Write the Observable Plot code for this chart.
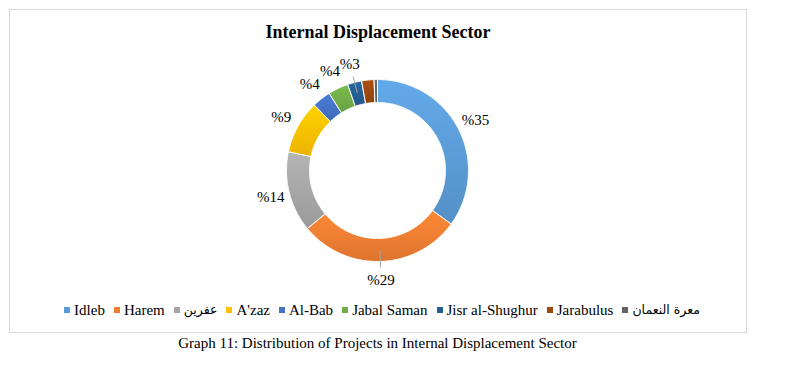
<!DOCTYPE html>
<html>
<head>
<meta charset="utf-8">
<script src="https://cdn.jsdelivr.net/npm/d3@7"></script>
<script src="https://cdn.jsdelivr.net/npm/@observablehq/plot@0.6"></script>
<style>
  html, body { margin: 0; padding: 0; background: #fff; }
  body { width: 797px; height: 365px; position: relative; font-family: "Liberation Serif", "Times New Roman", serif; color: #000; }
  #frame { position: absolute; left: 9px; top: 9px; width: 736px; height: 322px; border: 1px solid #d9d9d9; }
  #title { position: absolute; left: 0; top: 12px; width: 100%; text-align: center; font-weight: bold; font-size: 18px; line-height: 21px; }
  #chart { position: absolute; left: 0; top: 40px; }
  #legend { position: absolute; left: 0; top: 291px; width: 100%; display: flex; justify-content: center; align-items: center; font-size: 15px; line-height: 18px; gap: 9px; padding-left: 8px; box-sizing: border-box; }
  #legend .item { display: flex; align-items: center; }
  #legend .sw { width: 6px; height: 6px; margin-right: 4px; }
  #legend .ar { font-size: 12.5px; font-family: "DejaVu Sans", sans-serif; }
  #caption { position: absolute; left: 0; top: 334px; width: 755px; text-align: center; font-size: 15px; line-height: 18px; }
</style>
</head>
<body>
<div id="frame">
  <div id="title">Internal Displacement Sector</div>
  <div id="chart"></div>
  <div id="legend"></div>
</div>
<div id="caption">Graph 11: Distribution of Projects in Internal Displacement Sector</div>
<script>
const categories = ["Idleb", "Harem", "عفرين", "A'zaz", "Al-Bab", "Jabal Saman", "Jisr al-Shughur", "Jarabulus", "معرة النعمان"];
const shares = [35, 29, 14.3, 9.5, 3.3, 3.6, 2.5, 2.2, 0.6];
const labels = ["%35", "%29", "%14", "%9", "%4", "%4", "%3", "", ""];
const colors = ["#5B9BD5", "#ED7D31", "#A5A5A5", "#FFC000", "#4472C4", "#70AD47", "#255E91", "#9E480E", "#636363"];
const leaders = ["Harem", "Jisr al-Shughur"];

const R_OUT = 91, R_IN = 68, R_LABEL = 110;

const arcs = d3.pie().sort(null).value(d => d)(shares);
const pt = (r, a) => ({x: r * Math.sin(a), y: r * Math.cos(a)});

// slice polygons
const poly = [];
arcs.forEach((a, i) => {
  const n = Math.max(4, Math.ceil((a.endAngle - a.startAngle) / 0.01));
  const ring = [];
  for (let k = 0; k <= n; k++) ring.push(pt(R_OUT, a.startAngle + (a.endAngle - a.startAngle) * k / n));
  for (let k = n; k >= 0; k--) ring.push(pt(R_IN, a.startAngle + (a.endAngle - a.startAngle) * k / n));
  ring.push(ring[0]);
  ring.forEach(p => poly.push({...p, cat: categories[i]}));
});

const labelData = arcs.map((a, i) => {
  const m = (a.startAngle + a.endAngle) / 2;
  return {...pt(R_LABEL, m), text: labels[i], cat: categories[i]};
}).filter(d => d.text);

const leaderData = arcs.map((a, i) => {
  const m = (a.startAngle + a.endAngle) / 2;
  const p1 = pt(80, m), p2 = pt(97, m);
  return {x1: p1.x, y1: p1.y, x2: p2.x, y2: p2.y, cat: categories[i]};
}).filter(d => leaders.includes(d.cat));

const W = 736, H = 240;
const plot = Plot.plot({
  width: W, height: H,
  margin: 0,
  x: {domain: [-367, W - 367], axis: null},
  y: {domain: [-H / 2, H / 2], axis: null},
  color: {domain: categories, range: colors},
  style: {fontFamily: "'Liberation Serif', 'Times New Roman', serif", overflow: "visible", background: "transparent"},
  marks: [
    Plot.line(poly, {x: "x", y: "y", z: "cat", fill: "cat", stroke: "#ffffff", strokeWidth: 1, curve: "linear"}),
    Plot.link(leaderData, {x1: "x1", y1: "y1", x2: "x2", y2: "y2", stroke: "#a6a6a6", strokeWidth: 1}),
    Plot.text(labelData, {x: "x", y: "y", text: "text", fontSize: 15, fill: "#000", textAnchor: "middle"})
  ]
});

// subtle vertical gradient per slice (Office-style shading)
const ns = "http://www.w3.org/2000/svg";
const defs = document.createElementNS(ns, "defs");
const gradFor = {};
colors.forEach((c, i) => {
  const g = document.createElementNS(ns, "linearGradient");
  g.setAttribute("id", "slice-grad-" + i);
  g.setAttribute("x1", "0"); g.setAttribute("y1", "0");
  g.setAttribute("x2", "0"); g.setAttribute("y2", "1");
  const s1 = document.createElementNS(ns, "stop");
  s1.setAttribute("offset", "0"); s1.setAttribute("stop-color", d3.color(c).brighter(0.25).formatHex());
  const s2 = document.createElementNS(ns, "stop");
  s2.setAttribute("offset", "1"); s2.setAttribute("stop-color", d3.color(c).darker(0.2).formatHex());
  g.appendChild(s1); g.appendChild(s2);
  defs.appendChild(g);
  gradFor[d3.color(c).formatHex()] = "url(#slice-grad-" + i + ")";
});
plot.insertBefore(defs, plot.firstChild);
plot.querySelectorAll("g[aria-label='line'] path").forEach(p => {
  const f = p.getAttribute("fill");
  if (f && d3.color(f)) {
    const key = d3.color(f).formatHex();
    if (gradFor[key]) p.setAttribute("fill", gradFor[key]);
  }
});
document.getElementById("chart").appendChild(plot);

const legend = document.getElementById("legend");
const isArabic = s => /[\u0600-\u06FF]/.test(s);
categories.forEach((c, i) => {
  const item = document.createElement("div");
  item.className = "item";
  const sw = document.createElement("span");
  sw.className = "sw";
  sw.style.background = colors[i];
  const t = document.createElement("span");
  t.textContent = c;
  t.dir = "auto";
  if (isArabic(c)) t.className = "ar";
  item.appendChild(sw);
  item.appendChild(t);
  legend.appendChild(item);
});
</script>
</body>
</html>
